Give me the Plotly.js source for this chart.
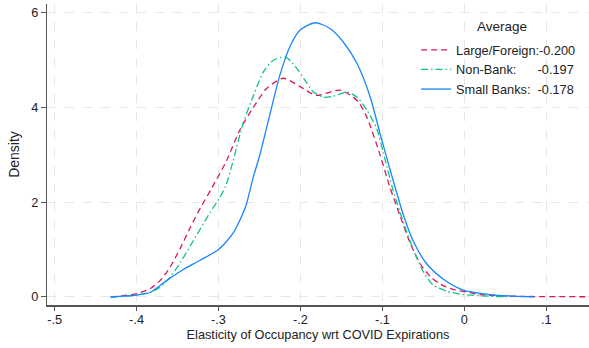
<!DOCTYPE html>
<html>
<head>
<meta charset="utf-8">
<script src="https://cdn.plot.ly/plotly-3.0.1.min.js"></script>
<style>html,body{margin:0;padding:0;background:#fff;}#chart{width:589px;height:348px;}</style>
</head>
<body>
<div id="chart"></div>
<script>
// ---- data ----
var legendTitle = "Average";
var seriesNames = ["Large/Foreign:", "Non-Bank:", "Small Banks:"];
var seriesAverages = ["-0.200", "-0.197", "-0.178"];
var seriesGaps = ["", "\u00a0\u00a0\u00a0\u00a0\u00a0\u00a0", "\u00a0\u00a0"];

var xRed = [-0.431,-0.400,-0.383,-0.371,-0.359,-0.346,-0.334,-0.322,-0.309,-0.290,-0.274,-0.257,-0.241,-0.221,-0.200,-0.181,-0.152,-0.136,-0.128,-0.118,-0.103,-0.091,-0.078,-0.066,-0.054,-0.041,-0.029,-0.014,0.007,0.019,0.052,0.080,0.152];
var yRed = [0,0.07,0.18,0.35,0.63,1.05,1.48,1.88,2.27,2.88,3.52,4.01,4.40,4.61,4.43,4.25,4.36,4.22,4.08,3.75,3.00,2.32,1.69,1.13,0.70,0.42,0.27,0.16,0.09,0.05,0.02,0.01,0.005];

var xGreen = [-0.431,-0.400,-0.383,-0.371,-0.359,-0.346,-0.334,-0.322,-0.310,-0.299,-0.291,-0.282,-0.270,-0.257,-0.245,-0.233,-0.219,-0.209,-0.196,-0.184,-0.172,-0.160,-0.143,-0.131,-0.119,-0.107,-0.099,-0.087,-0.074,-0.062,-0.050,-0.038,-0.021,-0.005,0.031,0.056];
var yGreen = [0,0.04,0.10,0.21,0.42,0.74,1.09,1.44,1.79,2.08,2.35,2.88,3.66,4.26,4.75,4.99,5.06,4.92,4.61,4.32,4.21,4.23,4.32,4.21,3.94,3.55,3.05,2.25,1.55,0.99,0.53,0.25,0.12,0.06,0.015,0.005];

var xBlue = [-0.432,-0.400,-0.383,-0.363,-0.343,-0.323,-0.300,-0.282,-0.267,-0.258,-0.249,-0.237,-0.225,-0.212,-0.200,-0.182,-0.164,-0.148,-0.131,-0.115,-0.103,-0.087,-0.075,-0.063,-0.046,-0.026,-0.002,0.031,0.064,0.085];
var yBlue = [0,0.04,0.10,0.35,0.58,0.77,1.00,1.35,1.90,2.50,3.03,3.87,4.68,5.31,5.63,5.78,5.66,5.38,4.92,4.22,3.45,2.46,1.76,1.20,0.70,0.38,0.15,0.05,0.015,0.005];

var xTickVals = [-0.5,-0.4,-0.3,-0.2,-0.1,0,0.1];
var xTickText = ["-.5","-.4","-.3","-.2","-.1","0",".1"];
var yTickVals = [0,2,4,6];
var yTickText = ["0","2","4","6"];

// ---- chart ----
var FONT = "Liberation Sans, Arial, Helvetica, sans-serif";
var colors = ["#d9195f", "#12c383", "#1a85ff"];
var dashes = ["6px,4px", "7px,3px,1.5px,3px", "solid"];
var xs = [xRed, xGreen, xBlue];
var ys = [yRed, yGreen, yBlue];

var traces = xs.map(function (x, i) {
  return {
    x: x, y: ys[i], type: "scatter", mode: "lines",
    name: seriesNames[i] + seriesGaps[i] + seriesAverages[i],
    line: {color: colors[i], width: 1.3, dash: dashes[i], shape: "spline", smoothing: 0.7},
    hoverinfo: "skip"
  };
});

var layout = {
  width: 589, height: 348,
  margin: {l: 47, r: 0, t: 4, b: 43, pad: 0},
  paper_bgcolor: "#fff", plot_bgcolor: "#fff",
  font: {family: FONT, size: 12.75, color: "#222"},
  showlegend: true,
  legend: {
    x: 0.681, xanchor: "left", y: 0.8967, yanchor: "top",
    bgcolor: "rgba(0,0,0,0)", borderwidth: 0,
    font: {family: FONT, size: 12.75, color: "#222"},
    traceorder: "normal"
  },
  annotations: [{
    text: legendTitle, xref: "paper", yref: "paper",
    x: 0.839, y: 0.9246, xanchor: "center", yanchor: "middle",
    showarrow: false, font: {family: FONT, size: 13.5, color: "#222"}
  }],
  xaxis: {
    range: [-0.50927, 0.15207], autorange: false,
    tickvals: xTickVals, ticktext: xTickText,
    ticks: "outside", ticklen: 4.5, tickwidth: 1, tickcolor: "#555",
    ticklabelstandoff: -2,
    showline: true, linecolor: "#555", linewidth: 1.5,
    showgrid: true, gridcolor: "#e6e6e6", gridwidth: 1, griddash: "dash",
    zeroline: false,
    tickfont: {family: FONT, size: 12.75, color: "#222"},
    title: {text: "Elasticity of Occupancy wrt COVID Expirations", font: {family: FONT, size: 12.75, color: "#222"}, standoff: 2},
    automargin: false
  },
  yaxis: {
    range: [-0.1688, 6.175], autorange: false,
    tickvals: yTickVals, ticktext: yTickText,
    ticks: "outside", ticklen: 4.5, tickwidth: 1, tickcolor: "#555",
    showline: true, linecolor: "#555", linewidth: 1.5,
    showgrid: true, gridcolor: "#e6e6e6", gridwidth: 1, griddash: "dash",
    zeroline: false,
    tickfont: {family: FONT, size: 12.75, color: "#222"},
    title: {text: "Density", font: {family: FONT, size: 14, color: "#222"}, standoff: 8},
    automargin: false
  }
};

Plotly.newPlot("chart", traces, layout, {staticPlot: true, displayModeBar: false});
</script>
</body>
</html>
